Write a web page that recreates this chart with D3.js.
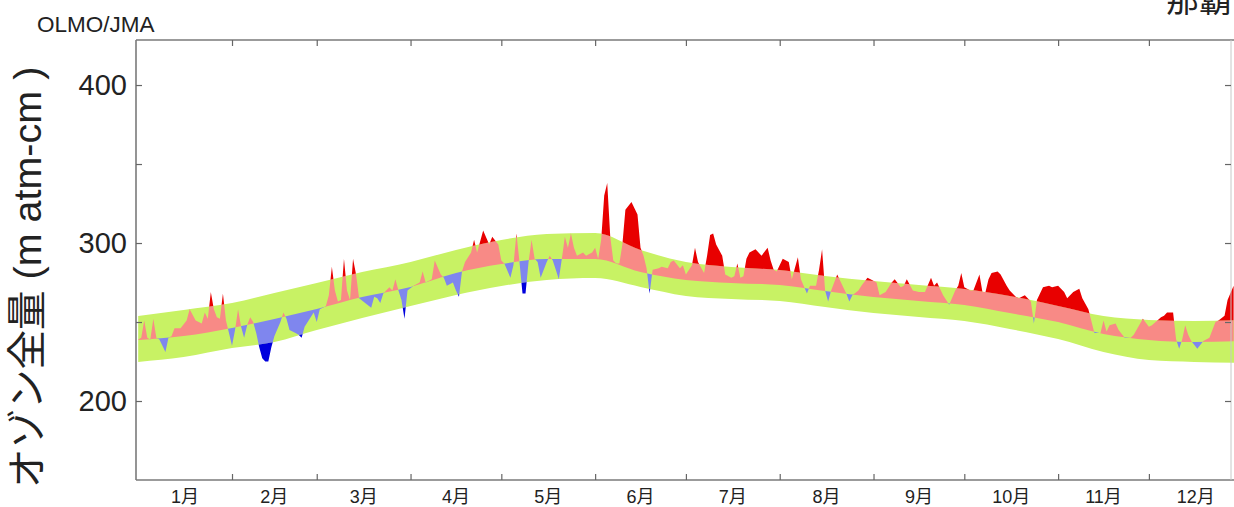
<!DOCTYPE html>
<html>
<head>
<meta charset="utf-8">
<script src="https://cdn.jsdelivr.net/npm/d3@7"></script>
<style>
body { margin: 0; background: #fff; }
text { font-family: "Liberation Sans", "Noto Sans CJK JP", sans-serif; fill: #222; }
</style>
</head>
<body>
<div class="chart"></div>
<script>
// normal range (day of year, m atm-cm)
const normDay = [0, 15, 31, 45, 59, 74, 90, 105, 120, 135, 151, 166, 181, 196, 212, 227, 243, 258, 273, 288, 304, 319, 334, 349, 365];
const normHi  = [253.8, 257.6, 262.0, 268.4, 274.7, 281.6, 288.0, 295.6, 301.9, 305.7, 306.3, 295.6, 288.0, 284.8, 282.9, 279.1, 275.9, 273.4, 270.9, 266.5, 260.1, 253.8, 251.3, 250.6, 251.3];
const normMid = [238.6, 241.1, 246.2, 251.9, 258.2, 265.8, 272.2, 281.0, 286.7, 289.9, 289.9, 281.6, 276.6, 274.7, 273.4, 269.6, 265.8, 263.3, 260.8, 255.7, 250.0, 242.4, 238.6, 237.3, 238.0];
const normLo  = [224.7, 227.8, 233.5, 237.3, 244.9, 252.5, 260.1, 267.1, 272.8, 276.6, 277.8, 272.2, 266.5, 264.6, 263.3, 259.5, 255.7, 253.2, 250.6, 245.6, 239.2, 231.0, 225.9, 224.7, 224.1];

// observed total ozone [day of year, value]
const observed = [[0,239],[1,240],[2,251],[3,240],[4,239],[5,252],[6,240],[7,239],[9,231],[10,240],[11,241],[12,246],[14,246],[16,251],[17,258],[19,251],[21,249],[22,256],[23,252],[24,269],[25,258],[26,253],[27,252],[28,268],[29,251],[30,243],[31,235],[32,245],[33,258],[34,247],[35,240],[36,248],[37,253],[38,250],[39,243],[40,234],[41,227],[42,225],[43,225],[44,234],[45,241],[47,250],[48,256],[49,252],[50,245],[52,243],[53,242],[54,240],[55,247],[56,250],[58,256],[59,250],[60,258],[62,260],[63,267],[64,285],[65,270],[66,263],[67,264],[68,290],[69,270],[70,264],[71,290],[72,280],[73,265],[75,262],[77,259],[78,266],[79,265],[80,262],[81,268],[83,272],[84,270],[85,277],[86,270],[87,264],[88,252],[89,270],[91,273],[93,275],[94,282],[95,275],[97,277],[98,289],[100,280],[101,278],[102,273],[104,275],[105,270],[106,266],[107,282],[108,288],[110,294],[111,302],[112,294],[114,308],[116,299],[117,304],[119,299],[120,289],[121,287],[123,278],[124,286],[125,306],[126,288],[127,268],[128,268],[129,288],[130,302],[131,290],[132,288],[133,278],[135,288],[136,292],[137,289],[138,283],[139,277],[140,290],[141,304],[142,297],[143,306],[144,297],[145,292],[147,294],[148,292],[150,294],[151,297],[152,290],[153,302],[154,330],[155,338],[156,304],[157,289],[158,287],[159,287],[160,299],[161,321],[163,326],[165,318],[166,297],[167,292],[168,284],[169,268],[170,283],[172,284],[173,285],[175,284],[176,288],[177,289],[179,284],[180,286],[181,280],[183,286],[184,297],[185,288],[187,281],[188,292],[189,305],[190,306],[191,299],[193,292],[194,280],[196,278],[197,279],[198,287],[199,278],[200,279],[201,290],[202,294],[204,296],[206,292],[208,297],[209,289],[210,283],[211,282],[213,290],[215,288],[216,277],[218,291],[219,277],[221,268],[222,273],[224,273],[225,283],[226,296],[227,270],[228,263],[229,270],[230,275],[231,280],[233,272],[234,268],[235,263],[236,267],[238,270],[239,273],[241,278],[242,277],[244,275],[245,267],[247,269],[249,275],[250,277],[252,272],[253,273],[254,277],[256,270],[258,269],[260,269],[262,278],[263,273],[264,275],[266,267],[268,261],[270,270],[271,273],[272,281],[273,272],[275,270],[276,270],[278,280],[279,269],[280,269],[281,277],[282,281],[284,282],[285,280],[287,273],[288,270],[290,266],[291,265],[293,267],[295,263],[296,249],[297,264],[299,272],[301,273],[302,272],[304,273],[306,269],[307,265],[309,269],[311,271],[312,265],[314,258],[316,243],[318,243],[319,251],[320,244],[321,248],[323,249],[324,245],[326,240],[328,240],[329,242],[332,252],[334,247],[335,248],[338,253],[339,254],[340,256],[342,256],[343,239],[344,233],[345,239],[346,248],[347,242],[348,238],[350,233],[352,238],[354,240],[356,250],[357,251],[359,254],[360,264],[362,273]];

const monthLabels = ["1月","2月","3月","4月","5月","6月","7月","8月","9月","10月","11月","12月"];
const yTicks = [200, 250, 300, 350, 400];

const width = 1234, height = 507;
const plotLeft = 136, plotTop = 40, plotBottom = 480, plotRight = 1231;

const svg = d3.select(".chart").append("svg")
    .attr("width", width)
    .attr("height", height);

const t0 = new Date(2023, 0, 1);
const xScale = d3.scaleTime()
    .domain([t0, new Date(2024, 0, 1)])
    .range([138.2, 1242.7]);
const dayX = d => xScale(d3.timeDay.offset(t0, d));

const yScale = d3.scaleLinear()
    .domain([150, 428.5])
    .range([plotBottom, plotTop]);

const normal = normDay.map((d, i) => ({day: d, hi: normHi[i], mid: normMid[i], lo: normLo[i]}));

// regions relative to the normal curves
const band = (y0, y1) => d3.area()
    .curve(d3.curveMonotoneX)
    .x(d => dayX(d.day))
    .y0(y0)
    .y1(y1)(normal);

// clip: below / above the observed curve
const defs = svg.append("defs");
defs.append("clipPath").attr("id", "belowObs")
    .append("path")
    .attr("d", d3.area().x(d => dayX(d[0])).y0(height).y1(d => yScale(d[1]))(observed));
defs.append("clipPath").attr("id", "aboveObs")
    .append("path")
    .attr("d", d3.area().x(d => dayX(d[0])).y0(0).y1(d => yScale(d[1]))(observed));

// green normal band
svg.append("path")
    .attr("fill", "#c8f264")
    .attr("d", band(d => yScale(d.lo), d => yScale(d.hi)));

const layers = [
    {fill: "#f88a86", clip: "belowObs", d: band(d => yScale(d.mid), d => yScale(d.hi))},
    {fill: "#e80000", clip: "belowObs", d: band(d => yScale(d.hi), d => 0)},
    {fill: "#7f86ee", clip: "aboveObs", d: band(d => yScale(d.lo), d => yScale(d.mid))},
    {fill: "#0000dd", clip: "aboveObs", d: band(d => height, d => yScale(d.lo))}
];
svg.append("g")
    .selectAll("path")
    .data(layers)
    .join("path")
    .attr("fill", d => d.fill)
    .attr("clip-path", d => `url(#${d.clip})`)
    .attr("d", d => d.d);

// frame
const frame = svg.append("g").attr("stroke", "#7a7a7a").attr("stroke-width", 1.6);
frame.append("line").attr("x1", plotLeft).attr("x2", plotLeft).attr("y1", plotTop).attr("y2", plotBottom);
frame.append("line").attr("x1", plotLeft).attr("x2", 1243).attr("y1", plotTop).attr("y2", plotTop);
frame.append("line").attr("x1", plotLeft).attr("x2", 1243).attr("y1", plotBottom).attr("y2", plotBottom);
frame.append("line").attr("x1", plotRight).attr("x2", plotRight).attr("y1", plotTop).attr("y2", plotBottom)
    .attr("stroke", "#c8c8c8").attr("stroke-width", 1);

const monthStarts = d3.timeMonth.range(new Date(2023, 1, 1), new Date(2024, 0, 1));

const styleAxis = g => {
    g.select(".domain").remove();
    g.selectAll(".tick line").attr("stroke", "#666").attr("stroke-width", 1.2);
};

svg.append("g")
    .attr("transform", `translate(0,${plotBottom})`)
    .call(d3.axisBottom(xScale).tickValues(monthStarts).tickSize(-6).tickFormat(""))
    .call(styleAxis);

svg.append("g")
    .attr("transform", `translate(0,${plotTop})`)
    .call(d3.axisTop(xScale).tickValues(monthStarts).tickSize(-6).tickFormat(""))
    .call(styleAxis);

svg.append("g")
    .attr("transform", `translate(${plotLeft},0)`)
    .call(d3.axisLeft(yScale).tickValues(yTicks).tickSize(-6).tickPadding(9)
        .tickFormat(d => d % 100 === 0 ? d : ""))
    .call(styleAxis)
    .call(g => g.selectAll("text")
        .attr("font-size", 29)
        .attr("font-family", null)
        .attr("fill", "#222"));

svg.append("g")
    .attr("transform", `translate(${plotRight},0)`)
    .call(d3.axisRight(yScale).tickValues(yTicks).tickSize(-6).tickFormat(""))
    .call(styleAxis);

// month labels at mid-month
svg.append("g")
    .selectAll("text")
    .data(monthLabels)
    .join("text")
    .attr("x", (d, i) => {
        const a = new Date(2023, i, 1), b = new Date(2023, i + 1, 1);
        return (xScale(a) + xScale(b)) / 2;
    })
    .attr("y", 503)
    .attr("text-anchor", "middle")
    .attr("font-size", 18)
    .text(d => d);

svg.append("text")
    .attr("x", 37)
    .attr("y", 32)
    .attr("font-size", 22.5)
    .text("OLMO/JMA");

svg.append("text")
    .attr("x", 1166)
    .attr("y", 12)
    .attr("font-size", 33)
    .text("那覇");

svg.append("text")
    .attr("transform", "translate(41,488) rotate(-90)")
    .attr("font-size", 39.5)
    .text("オゾン全量 (m atm-cm )");
</script>
</body>
</html>
